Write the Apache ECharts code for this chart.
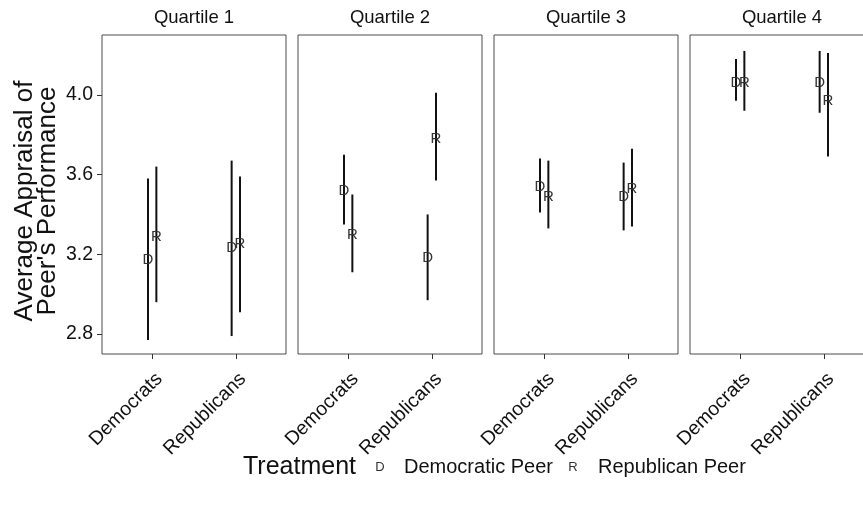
<!DOCTYPE html>
<html><head><meta charset="utf-8">
<script src="https://cdn.jsdelivr.net/npm/echarts@6/dist/echarts.min.js"></script>
<style>html,body{margin:0;padding:0;background:#fff;overflow:hidden;width:863px;height:510px}#c{width:880px;height:510px}</style>
</head><body><div id="c"></div>
<script>
// ---- data ----
const quartiles = ['Quartile 1', 'Quartile 2', 'Quartile 3', 'Quartile 4'];
const categories = ['Democrats', 'Republicans'];
const yTicks = [2.8, 3.2, 3.6, 4.0];
const treatments = ['Democratic Peer', 'Republican Peer'];
const treatmentKeys = ['D', 'R'];
// values per quartile: [Democrats, Republicans]
const demPeerMean = [[3.17, 3.23], [3.52, 3.18], [3.54, 3.49], [4.06, 4.06]];
const demPeerLow  = [[2.77, 2.79], [3.35, 2.97], [3.41, 3.32], [3.97, 3.91]];
const demPeerHigh = [[3.58, 3.67], [3.70, 3.40], [3.68, 3.66], [4.18, 4.22]];
const repPeerMean = [[3.29, 3.25], [3.30, 3.78], [3.49, 3.53], [4.06, 3.97]];
const repPeerLow  = [[2.96, 2.91], [3.11, 3.57], [3.33, 3.34], [3.92, 3.69]];
const repPeerHigh = [[3.64, 3.59], [3.50, 4.01], [3.67, 3.73], [4.22, 4.21]];

// ---- layout / style ----
const FONT = '"Liberation Sans", Arial, Helvetica, sans-serif';
const P_LEFT = 102, P_STEP = 196, P_W = 184, P_TOP = 35, P_H = 319;
const DODGE = 0.05;

const chart = echarts.init(document.getElementById('c'), null, {renderer: 'canvas', width: 880, height: 510});
const grids = [], xAxes = [], yAxes = [], series = [], graphics = [];

quartiles.forEach((q, i) => {
  grids.push({left: P_LEFT + P_STEP * i, top: P_TOP, width: P_W, height: P_H,
    show: true, borderColor: '#4d4d4d', borderWidth: 1, backgroundColor: 'transparent', containLabel: false});
  xAxes.push({type: 'value', gridIndex: i, min: 0.4, max: 2.6,
    axisLine: {show: false}, splitLine: {show: false},
    axisTick: {show: true, customValues: [1, 2], length: 5, lineStyle: {color: '#333', width: 1}},
    axisLabel: {customValues: [1, 2], formatter: v => categories[Math.round(v) - 1],
      rotate: 45, align: 'right', verticalAlign: 'top', margin: 15,
      fontSize: 19.5, color: '#111', fontFamily: FONT}});
  yAxes.push({type: 'value', gridIndex: i, min: 2.7, max: 4.3,
    axisLine: {show: false}, splitLine: {show: false},
    axisTick: {show: i === 0, customValues: yTicks, length: 5, lineStyle: {color: '#333', width: 1}},
    axisLabel: {show: i === 0, customValues: yTicks, formatter: v => v.toFixed(1), margin: 9,
      fontSize: 19.5, color: '#111', fontFamily: FONT}});

  const data = [];
  categories.forEach((c, j) => {
    data.push([j + 1 - DODGE, demPeerLow[i][j], demPeerHigh[i][j], demPeerMean[i][j], 0]);
    data.push([j + 1 + DODGE, repPeerLow[i][j], repPeerHigh[i][j], repPeerMean[i][j], 1]);
  });
  series.push({
    type: 'custom', xAxisIndex: i, yAxisIndex: i, data: data, clip: false,
    renderItem: (params, api) => {
      const x = api.value(0);
      const p1 = api.coord([x, api.value(1)]);
      const p2 = api.coord([x, api.value(2)]);
      const pm = api.coord([x, api.value(3)]);
      return {type: 'group', children: [
        {type: 'line', shape: {x1: p1[0], y1: p1[1], x2: p2[0], y2: p2[1]},
          style: {stroke: '#111', lineWidth: 2}},
        {type: 'text', x: pm[0], y: pm[1],
          style: {text: treatmentKeys[api.value(4)], textAlign: 'center', textVerticalAlign: 'middle',
            font: '15px ' + FONT, fill: '#333'}}
      ]};
    }
  });

  graphics.push({type: 'text', x: P_LEFT + P_STEP * i + P_W / 2, y: 18,
    style: {text: q, textAlign: 'center', textVerticalAlign: 'middle', font: '18.5px ' + FONT, fill: '#111'}});
});

// y-axis title
graphics.push({type: 'text', x: 36, y: 201, rotation: Math.PI / 2,
  style: {text: 'Average Appraisal of\nPeer\'s Performance', textAlign: 'center', textVerticalAlign: 'middle',
    font: '26px ' + FONT, lineHeight: 23, fill: '#111'}});

// legend
graphics.push({type: 'text', x: 243, y: 467, style: {text: 'Treatment', textVerticalAlign: 'middle', font: '25px ' + FONT, fill: '#111'}});
graphics.push({type: 'text', x: 380, y: 467, style: {text: treatmentKeys[0], textAlign: 'center', textVerticalAlign: 'middle', font: '13px ' + FONT, fill: '#333'}});
graphics.push({type: 'text', x: 404, y: 467, style: {text: treatments[0], textVerticalAlign: 'middle', font: '20px ' + FONT, fill: '#111'}});
graphics.push({type: 'text', x: 573, y: 467, style: {text: treatmentKeys[1], textAlign: 'center', textVerticalAlign: 'middle', font: '13px ' + FONT, fill: '#333'}});
graphics.push({type: 'text', x: 598, y: 467, style: {text: treatments[1], textVerticalAlign: 'middle', font: '20px ' + FONT, fill: '#111'}});

chart.setOption({
  animation: false,
  backgroundColor: '#fff',
  grid: grids, xAxis: xAxes, yAxis: yAxes, series: series, graphic: graphics
});
</script></body></html>
